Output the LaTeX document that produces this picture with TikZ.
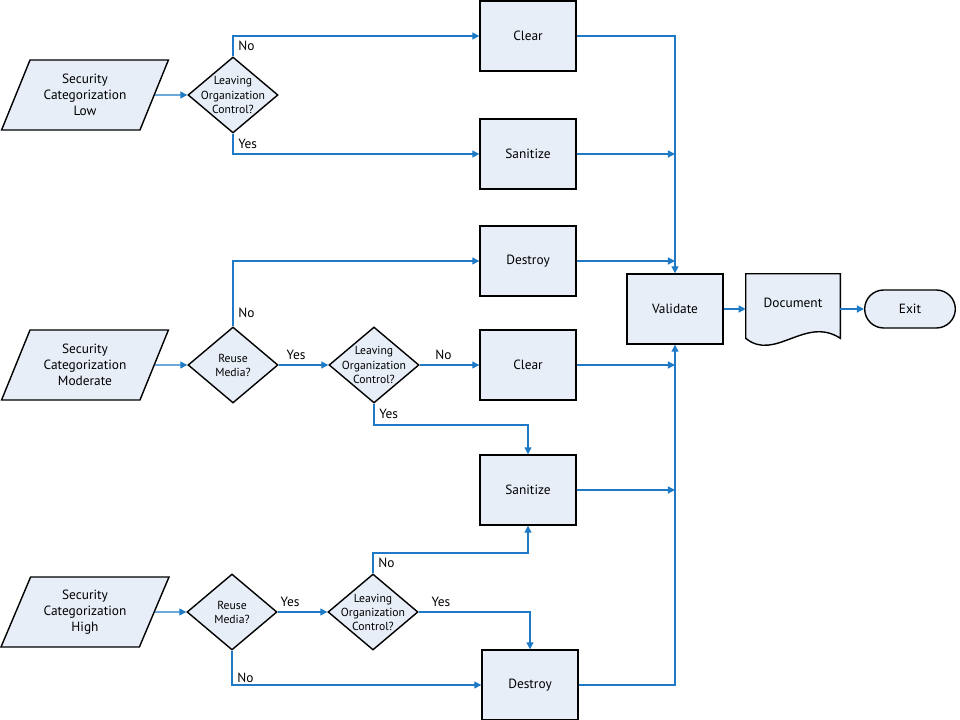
\documentclass[tikz,border=0pt]{standalone}
\usepackage{fontspec}
\setmainfont{PT Sans}
\usetikzlibrary{arrows.meta, shapes.geometric, shapes.misc, backgrounds}
\definecolor{flowblue}{HTML}{1F7AC6}
\definecolor{boxfill}{HTML}{E8EEF8}

\begin{document}
\begin{tikzpicture}[
		x = 0.025cm, y = -0.025cm,
		every node/.style = {font = \fontsize{9.5}{11.4}\selectfont},
		procbox/.style = {rectangle, draw, line width = 1pt, fill = boxfill,
		minimum width = 2.4cm, minimum height = 1.75cm},
		inputbox/.style = {trapezium, trapezium left angle = 65,
		trapezium right angle = 115, trapezium stretches, draw, line width = 1pt,
		fill = boxfill, minimum width = 4.2cm, minimum height = 1.75cm, align = center},
		askbox/.style = {diamond, draw, line width = 1pt, fill = boxfill,
		minimum width = 2.25cm, minimum height = 1.9cm, inner sep = 0pt},
		asktext/.style = {align = center, font = \fontsize{8.3}{10}\selectfont},
		docbox/.style = {rectangle, minimum width = 2.35cm, minimum height = 1.6cm,
		text depth = 0.15cm},
		endbox/.style = {rounded rectangle, draw, line width = 1pt, fill = boxfill,
		minimum width = 2.5cm, minimum height = 0.95cm},
		flow/.style = {draw = flowblue, line width = 0.9pt,
		-{Triangle[length = 5pt, width = 5pt]}}
		]
		\useasboundingbox (0,0) rectangle (960,720);

		% low
		\node[inputbox](P1) at (85,95){Security\\Categorization\\Low};
		\node[askbox, label = {[asktext]center:Leaving\\Organization\\Control?}](Q1) at (233,95){};
		\node[procbox](C1) at (528,36){Clear};
		\node[procbox](S1) at (528,154){Sanitize};

		% moderate
		\node[inputbox](P2) at (85,365){Security\\Categorization\\Moderate};
		\node[askbox, label = {[asktext]center:Reuse\\Media?}](R2) at (233,365){};
		\node[askbox, label = {[asktext]center:Leaving\\Organization\\Control?}](Q2) at (374,365){};
		\node[procbox](D2) at (528,261){Destroy};
		\node[procbox](C2) at (528,365){Clear};
		\node[procbox](S2) at (528,490){Sanitize};
		\coordinate (K2) at (374,425);

		% high
		\node[inputbox](P3) at (85,612){Security\\Categorization\\High};
		\node[askbox, label = {[asktext]center:Reuse\\Media?}](R3) at (232,612){};
		\node[askbox, label = {[asktext]center:Leaving\\Organization\\Control?}](Q3) at (373,612){};
		\node[procbox](D3) at (530,685){Destroy};
		\coordinate (K3) at (373,553);

		% end
		\node[procbox](V) at (675,309){Validate};
		\node[docbox](Doc) at (793,306){Document};
		\node[endbox](Exit) at (910,309){Exit};
		\begin{scope}[on background layer]
			\draw[line width = 1pt, fill = boxfill] (Doc.north west) -- (Doc.north east)
			-- (Doc.south east) .. controls +(-35,-23) and +(29,24) .. (Doc.south west) -- cycle;
		\end{scope}

		\draw[flow] (P1.east) -- (Q1.west);
		\draw[flow] (Q1.north) |- node[pos = 0.25, right]{No} (C1.west);
		\draw[flow] (Q1.south) |- node[pos = 0.25, right]{Yes} (S1.west);

		\draw[flow] (P2.east) -- (R2.west);
		\draw[flow] (R2.north) |- node[pos = 0.1, right]{No} (D2.west);
		\draw[flow] (R2.east) -- node[pos = 0.35, above]{Yes} (Q2.west);
		\draw[flow] (Q2.east) -- node[pos = 0.4, above]{No} (C2.west);
		\draw[flow] (Q2.south) -- (K2) node[midway, right]{Yes} -| (S2.north);

		\draw[flow] (P3.east) -- (R3.west);
		\draw[flow] (R3.east) -- node[pos = 0.25, above]{Yes} (Q3.west);
		\draw[flow] (R3.south) |- node[pos = 0.4, right]{No} (D3.west);
		\draw[flow] (Q3.north) -- (K3) node[midway, right]{No} -| (S2.south);
		\draw[flow] (Q3.east) -| node[pos = 0.1, above]{Yes} (D3.north);

		\draw[flow] (C1.east) -| (V.north);
		\draw[flow] (S1.east) -- (S1.east -| V);
		\draw[flow] (D2.east) -- (D2.east -| V);
		\draw[flow] (C2.east) -- (C2.east -| V);
		\draw[flow] (S2.east) -- (S2.east -| V);
		\draw[flow] (D3.east) -| (V.south);
		\draw[flow] (V.east) -- (V.east -| Doc.west);
		\draw[flow] (Exit.west -| Doc.east) -- (Exit.west);
	\end{tikzpicture}
\end{document}
